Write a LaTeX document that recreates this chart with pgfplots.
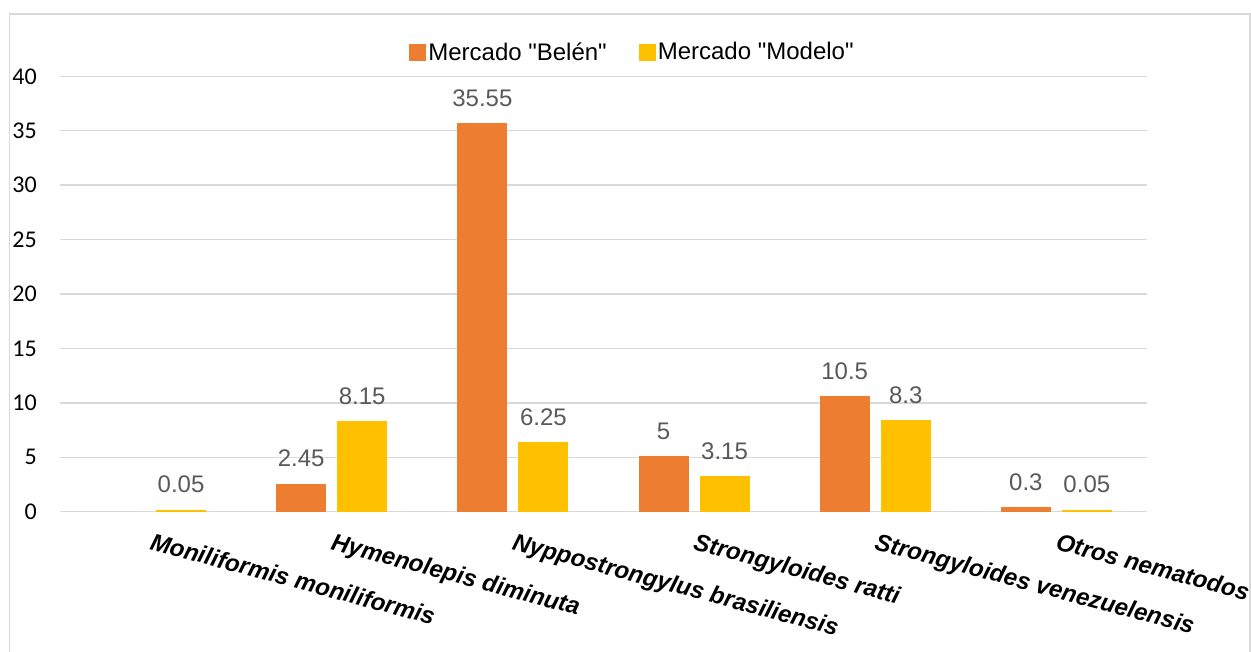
\documentclass[border=0pt]{standalone}
\usepackage{pgfplots}
\pgfplotsset{compat=1.18}
\usepackage{fontspec}
\setmainfont{Liberation Sans}[Ligatures=TeXOff]
\newfontfamily\carlito{Carlito}
\definecolor{cBelen}{HTML}{ED7D31}
\definecolor{cModelo}{HTML}{FFC000}
\definecolor{cGrid}{HTML}{D9D9D9}
\definecolor{cLab}{HTML}{595959}
\begin{document}
\begin{tikzpicture}
\draw[cGrid, line width=1.5pt] (-50.5pt,-160pt) rectangle (1190pt,497.7pt);
\begin{axis}[
  at={(0pt,0pt)}, anchor=south west,
  scale only axis,
  width=1087pt, height=435.4pt,
  ybar=14pt, bar width=47pt,
  xmin=-0.5, xmax=5.5,
  ymin=0, ymax=40,
  xtick={0,1,2,3,4,5},
  xticklabels={Moniliformis moniliformis, Hymenolepis diminuta, Nyppostrongylus brasiliensis, Strongyloides ratti, Strongyloides venezuelensis, Otros nematodos},
  ytick={0,5,...,40},
  axis line style={draw=none},
  major tick length=0pt,
  tick style={draw=none},
  ymajorgrids,
  grid style={cGrid, line width=1.5pt},
  /pgf/number format/assume math mode=true,
  yticklabel style={font=\carlito\fontsize{24}{28}\selectfont, anchor=east, inner sep=0pt, xshift=-23pt},
  xticklabel style={font=\bfseries\itshape\fontsize{24}{28}\selectfont, anchor=north west, rotate=-15, inner sep=0pt, yshift=-19pt, xshift=8pt},
  point meta=explicit symbolic,
  nodes near coords,
  nodes near coords style={font=\fontsize{24}{28}\selectfont, text=cLab, anchor=south, inner sep=0pt, yshift=16.5pt},
  legend columns=2,
  legend style={draw=none, fill=none, at={(axis description cs:0.5267,1.0557)}, anchor=center,
    font=\fontsize{24}{28}\selectfont, inner sep=0pt,
    /tikz/every even column/.append style={column sep=30pt}},
  legend image code/.code={\fill[#1,draw=none] (0pt,-8.5pt) rectangle (17pt,8.5pt);},
]
\addplot[fill=cBelen, draw=cBelen, line width=3pt] coordinates {
  (1,2.45) [2.45]
  (2,35.55) [35.55]
  (3,5) [5]
  (4,10.5) [10.5]
  (5,0.3) [0.3]
};
\addlegendentry{Mercado "Belén"}
\addplot[fill=cModelo, draw=cModelo, line width=3pt] coordinates {
  (0,0.05) [0.05]
  (1,8.15) [8.15]
  (2,6.25) [6.25]
  (3,3.15) [3.15]
  (4,8.3) [8.3]
  (5,0.05) [0.05]
};
\addlegendentry{Mercado "Modelo"}
\end{axis}
\pgfresetboundingbox
\path[use as bounding box] (-60pt,-140.3pt) rectangle (1191pt,511.7pt);
\end{tikzpicture}
\end{document}
